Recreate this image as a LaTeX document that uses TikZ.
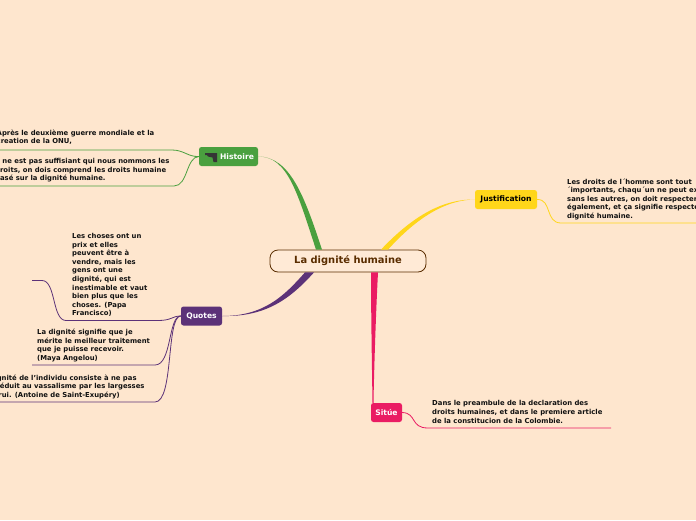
\documentclass[tikz,border=0pt]{standalone}
\usepackage{xcolor}
\usepackage{fontspec}
\setmainfont{DejaVu Sans}
\usetikzlibrary{calc}
\definecolor{figpaper}{HTML}{FEE6CE}
\definecolor{figroot}{HTML}{FFEAD6}
\definecolor{figbrown}{HTML}{5A2D00}
\definecolor{figgreen}{HTML}{4AA03F}
\definecolor{figyellow}{HTML}{FFD61A}
\definecolor{figpurple}{HTML}{5C3278}
\definecolor{figpink}{HTML}{EA1C63}
\definecolor{figink}{HTML}{111111}
\tikzset{
  topic/.style={rounded corners=2.5pt,inner sep=0pt,minimum height=19pt,font=\fontsize{7.6}{9}\selectfont\bfseries,text=white},
  note/.style={anchor=north west,inner sep=0pt,align=left,text=figink,font=\fontsize{6.85}{8.6}\selectfont\bfseries},
  wire/.style={line width=0.8pt}
}

\begin{document}
\begin{tikzpicture}[x=1pt,y=-1pt]
    \useasboundingbox (0,0) rectangle (696,520);
    \clip (0,0) rectangle (696,520);
    \fill[figpaper] (0,0) rectangle (696,520);
    \node[draw=figbrown,fill=figroot,thick,rounded corners=8pt,minimum width=156pt,minimum height=22pt,inner sep=0pt,text=figbrown,font=\fontsize{9.9}{12}\selectfont\bfseries] (root) at (348,261) {La dignité humaine};
    \node[topic,fill=figgreen,minimum width=59pt] (histoire) at (228.5,156.5) {\hspace{17pt}Histoire};
    \node[topic,fill=figyellow,minimum width=62pt,text=black] (justif) at (506,199.5) {Justification};
    \node[topic,fill=figpurple,minimum width=41pt] (quotes) at (201.5,316) {Quotes};
    \node[topic,fill=figpink,minimum width=31pt] (situe) at (386.5,412.5) {Sitúe};
    % pistol on the green topic
    \fill[figink!85] (205,153) -- (217,153) -- (217,162) -- (213.5,162) -- (212.5,157.5) -- (208,156.5) -- (207,155) -- (205,155) -- cycle;
    % tapered branches
    \fill[figgreen] (histoire.east) .. controls (288,156) and (298,195) .. ($(root.north)+(-32,0)$) -- ($(root.north)+(-26,0)$) .. controls (304,195) and (290,157) .. (histoire.east) -- cycle;
    \fill[figyellow] (justif.west) .. controls (440,199) and (410,219) .. ($(root.north)+(33,0)$) -- ($(root.north)+(40,0)$) .. controls (413,222) and (442,200) .. (justif.west) -- cycle;
    \fill[figpurple] (quotes.east) .. controls (264,316) and (284,296) .. ($(root.south)+(-43,0)$) -- ($(root.south)+(-34,0)$) .. controls (290,299) and (266,317) .. (quotes.east) -- cycle;
    \fill[figpink] ($(situe.north)+(-14,0)$) .. controls (372,370) and (371,310) .. ($(root.south)+(23,0)$) -- ($(root.south)+(30,0)$) .. controls (376,310) and (374,370) .. ($(situe.north)+(-13,0)$) -- cycle;
    % notes
    \node[note] (n1) at (-3.5,129.5) {Après le deuxième guerre mondiale et la\\creation de la ONU,};
    \node[note] (n2) at (-5,158) {Il ne est pas suffisiant qui nous nommons les\\droits, on dois comprend les droits humaine\\basé sur la dignité humaine.};
    \node[note] (n3) at (72,233) {Les choses ont un\\prix et elles\\peuvent être à\\vendre, mais les\\gens ont une\\dignité, qui est\\inestimable et vaut\\bien plus que les\\choses. (Papa\\Francisco)};
    \node[note] (n4) at (37,329) {La dignité signifie que je\\mérite le meilleur traitement\\que je puisse recevoir.\\(Maya Angelou)};
    \node[note] (n5) at (-22,374.5) {La dignité de l'individu consiste à ne pas\\être réduit au vassalisme par les largesses\\d'autrui. (Antoine de Saint-Exupéry)};
    \node[note] (n6) at (567,178.5) {Les droits de l´homme sont tout\\´importants, chaqu´un ne peut exister\\sans les autres, on doit respecter\\également, et ça signifie respecter la\\dignité humaine.};
    \node[note] (n7) at (432,400.5) {Dans le preambule de la declaration des\\droits humaines, et dans le premiere article\\de la constitucion de la Colombie.};
    % free ends of the wires
    \coordinate (e1) at (0,150);
    \coordinate (e2) at (0,186);
    \coordinate (e3) at (32,280.5);
    \coordinate (e4) at (32,365);
    \coordinate (e5) at (0,402);
    \coordinate (e6) at (696,223);
    \coordinate (e7) at (611,428);
    \draw[wire,figgreen] (histoire.west) .. controls (188,157) and (184,150) .. (172,150) -- (e1);
    \draw[wire,figgreen] (histoire.west) .. controls (186,157) and (188,186) .. (174,186) -- (e2);
    \draw[wire,figpurple] (quotes.west) .. controls (172,316) and (172,320.5) .. (158,320.5) -- (66,320.5) .. controls (52,320.5) and (56,280.5) .. (42,280.5) -- (e3);
    \draw[wire,figpurple] (quotes.west) .. controls (168,316) and (172,365) .. (155,365) -- (e4);
    \draw[wire,figpurple] (quotes.west) .. controls (166,316) and (174,402) .. (155,402) -- (e5);
    \draw[wire,figyellow] (justif.east) .. controls (552,199) and (545,223) .. (561,223) -- (e6);
    \draw[wire,figpink] (situe.east) .. controls (417,413) and (410,428) .. (428,428) -- (e7);
  \end{tikzpicture}
\end{document}
